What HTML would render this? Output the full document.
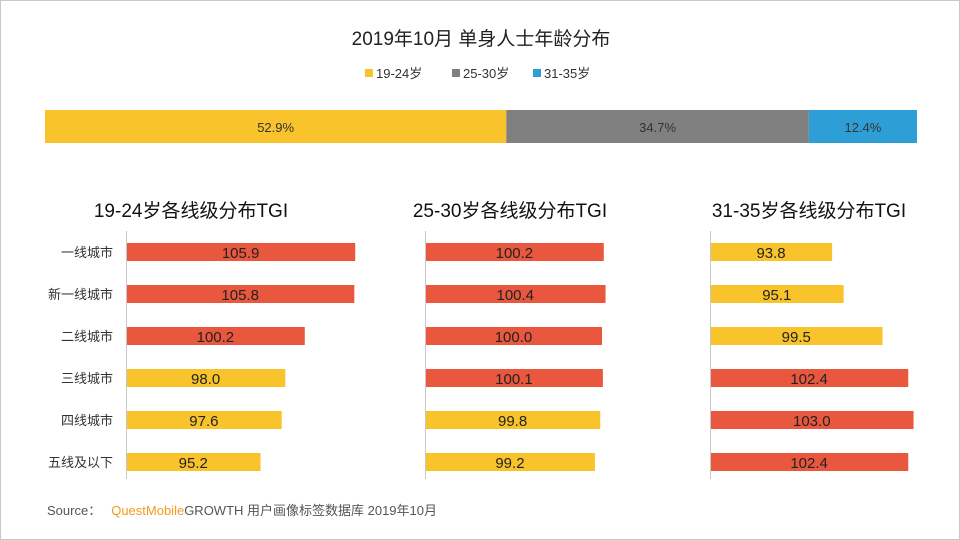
<!DOCTYPE html>
<html><head><meta charset="utf-8"><style>
body{margin:0;background:#fff}
#c{position:relative;width:960px;height:540px;overflow:hidden;font-family:"Liberation Sans","Noto Sans CJK SC",sans-serif;box-sizing:border-box;border:1px solid #c8c8c8}
svg text{font-family:"Liberation Sans","Noto Sans CJK SC",sans-serif}
</style></head><body>
<div id="c">
<svg id="s" width="960" height="540">
<text x="480" y="44" text-anchor="middle" font-size="19" fill="#222">2019年10月 单身人士年龄分布</text>
</svg>
</div>
<script>
const ageGroups=["19-24岁","25-30岁","31-35岁"];
const ageShares=[52.9,34.7,12.4];
const cities=["一线城市","新一线城市","二线城市","三线城市","四线城市","五线及以下"];
const tgi1924=[105.9,105.8,100.2,98.0,97.6,95.2];
const tgi2530=[100.2,100.4,100.0,100.1,99.8,99.2];
const tgi3135=[93.8,95.1,99.5,102.4,103.0,102.4];
const panelTitles=["19-24岁各线级分布TGI","25-30岁各线级分布TGI","31-35岁各线级分布TGI"];
const ageColors=["#F9C32B","#808080","#2E9FD6"];
const NS="http://www.w3.org/2000/svg";
const s=document.getElementById('s');
function mk(t,a,txt){const e=document.createElementNS(NS,t);for(const k in a)e.setAttribute(k,a[k]);if(txt!==undefined)e.textContent=txt;s.appendChild(e);return e;}
let lx=[364,451,532];
ageGroups.forEach((g,i)=>{
 const r=mk('rect',{x:lx[i],y:68,width:8,height:8,fill:ageColors[i]});
 
 
 const t=mk('text',{x:lx[i]+11,y:77,'font-size':13,fill:'#333'},g);
 
 
});
const sx0=44,sx1=916,tot=ageShares.reduce((a,b)=>a+b,0);
let cx=sx0;
ageShares.forEach((v,i)=>{
 const w=(sx1-sx0)*v/tot;
 const r=mk('rect',{x:cx,y:109,width:w,height:33,fill:ageColors[i]});
 
 
 const t=mk('text',{x:cx+w/2,y:131,'text-anchor':'middle','font-size':13,fill:'#333'},v.toFixed(1)+'%');
 
 
 cx+=w;
});
const pxU=8.85,minV=80;
const axes=[125,424,709];
const series=[tgi1924,tgi2530,tgi3135];
const titleX=[190,509,808];
const rowY=i=>251+i*42;
const xs=v=>(v-minV)*pxU;
series.forEach((vals,p)=>{
 const ax=axes[p];
 const tt=mk('text',{x:titleX[p],y:216,'text-anchor':'middle','font-size':19,fill:'#111'},panelTitles[p]);
 
 
 const l=mk('line',{x1:ax+.5,y1:230,x2:ax+.5,y2:478,stroke:'#c8c8c8'});
 
 
 vals.forEach((v,i)=>{
  const w=xs(v),y=rowY(i);
  const r=mk('rect',{x:ax+1,y:y-9,width:w-1,height:18,fill:v>=100?'#E8573E':'#F9C32B'});
  
  
  const t=mk('text',{x:ax+w/2,y:y+6,'text-anchor':'middle','font-size':15,fill:'#222'},v.toFixed(1));
  
  
 });
});
cities.forEach((c,i)=>{
 const t=mk('text',{x:112,y:rowY(i)+5,'text-anchor':'end','font-size':13,fill:'#333'},c);
 
 
});
const src=mk('text',{x:46,y:514,'font-size':13,fill:'#555'});


src.innerHTML='<tspan>Source：</tspan><tspan dx="10" fill="#F39A1E">QuestMobile</tspan><tspan fill="#555">GROWTH 用户画像标签数据库 2019年10月</tspan>';
</script>
</body></html>
